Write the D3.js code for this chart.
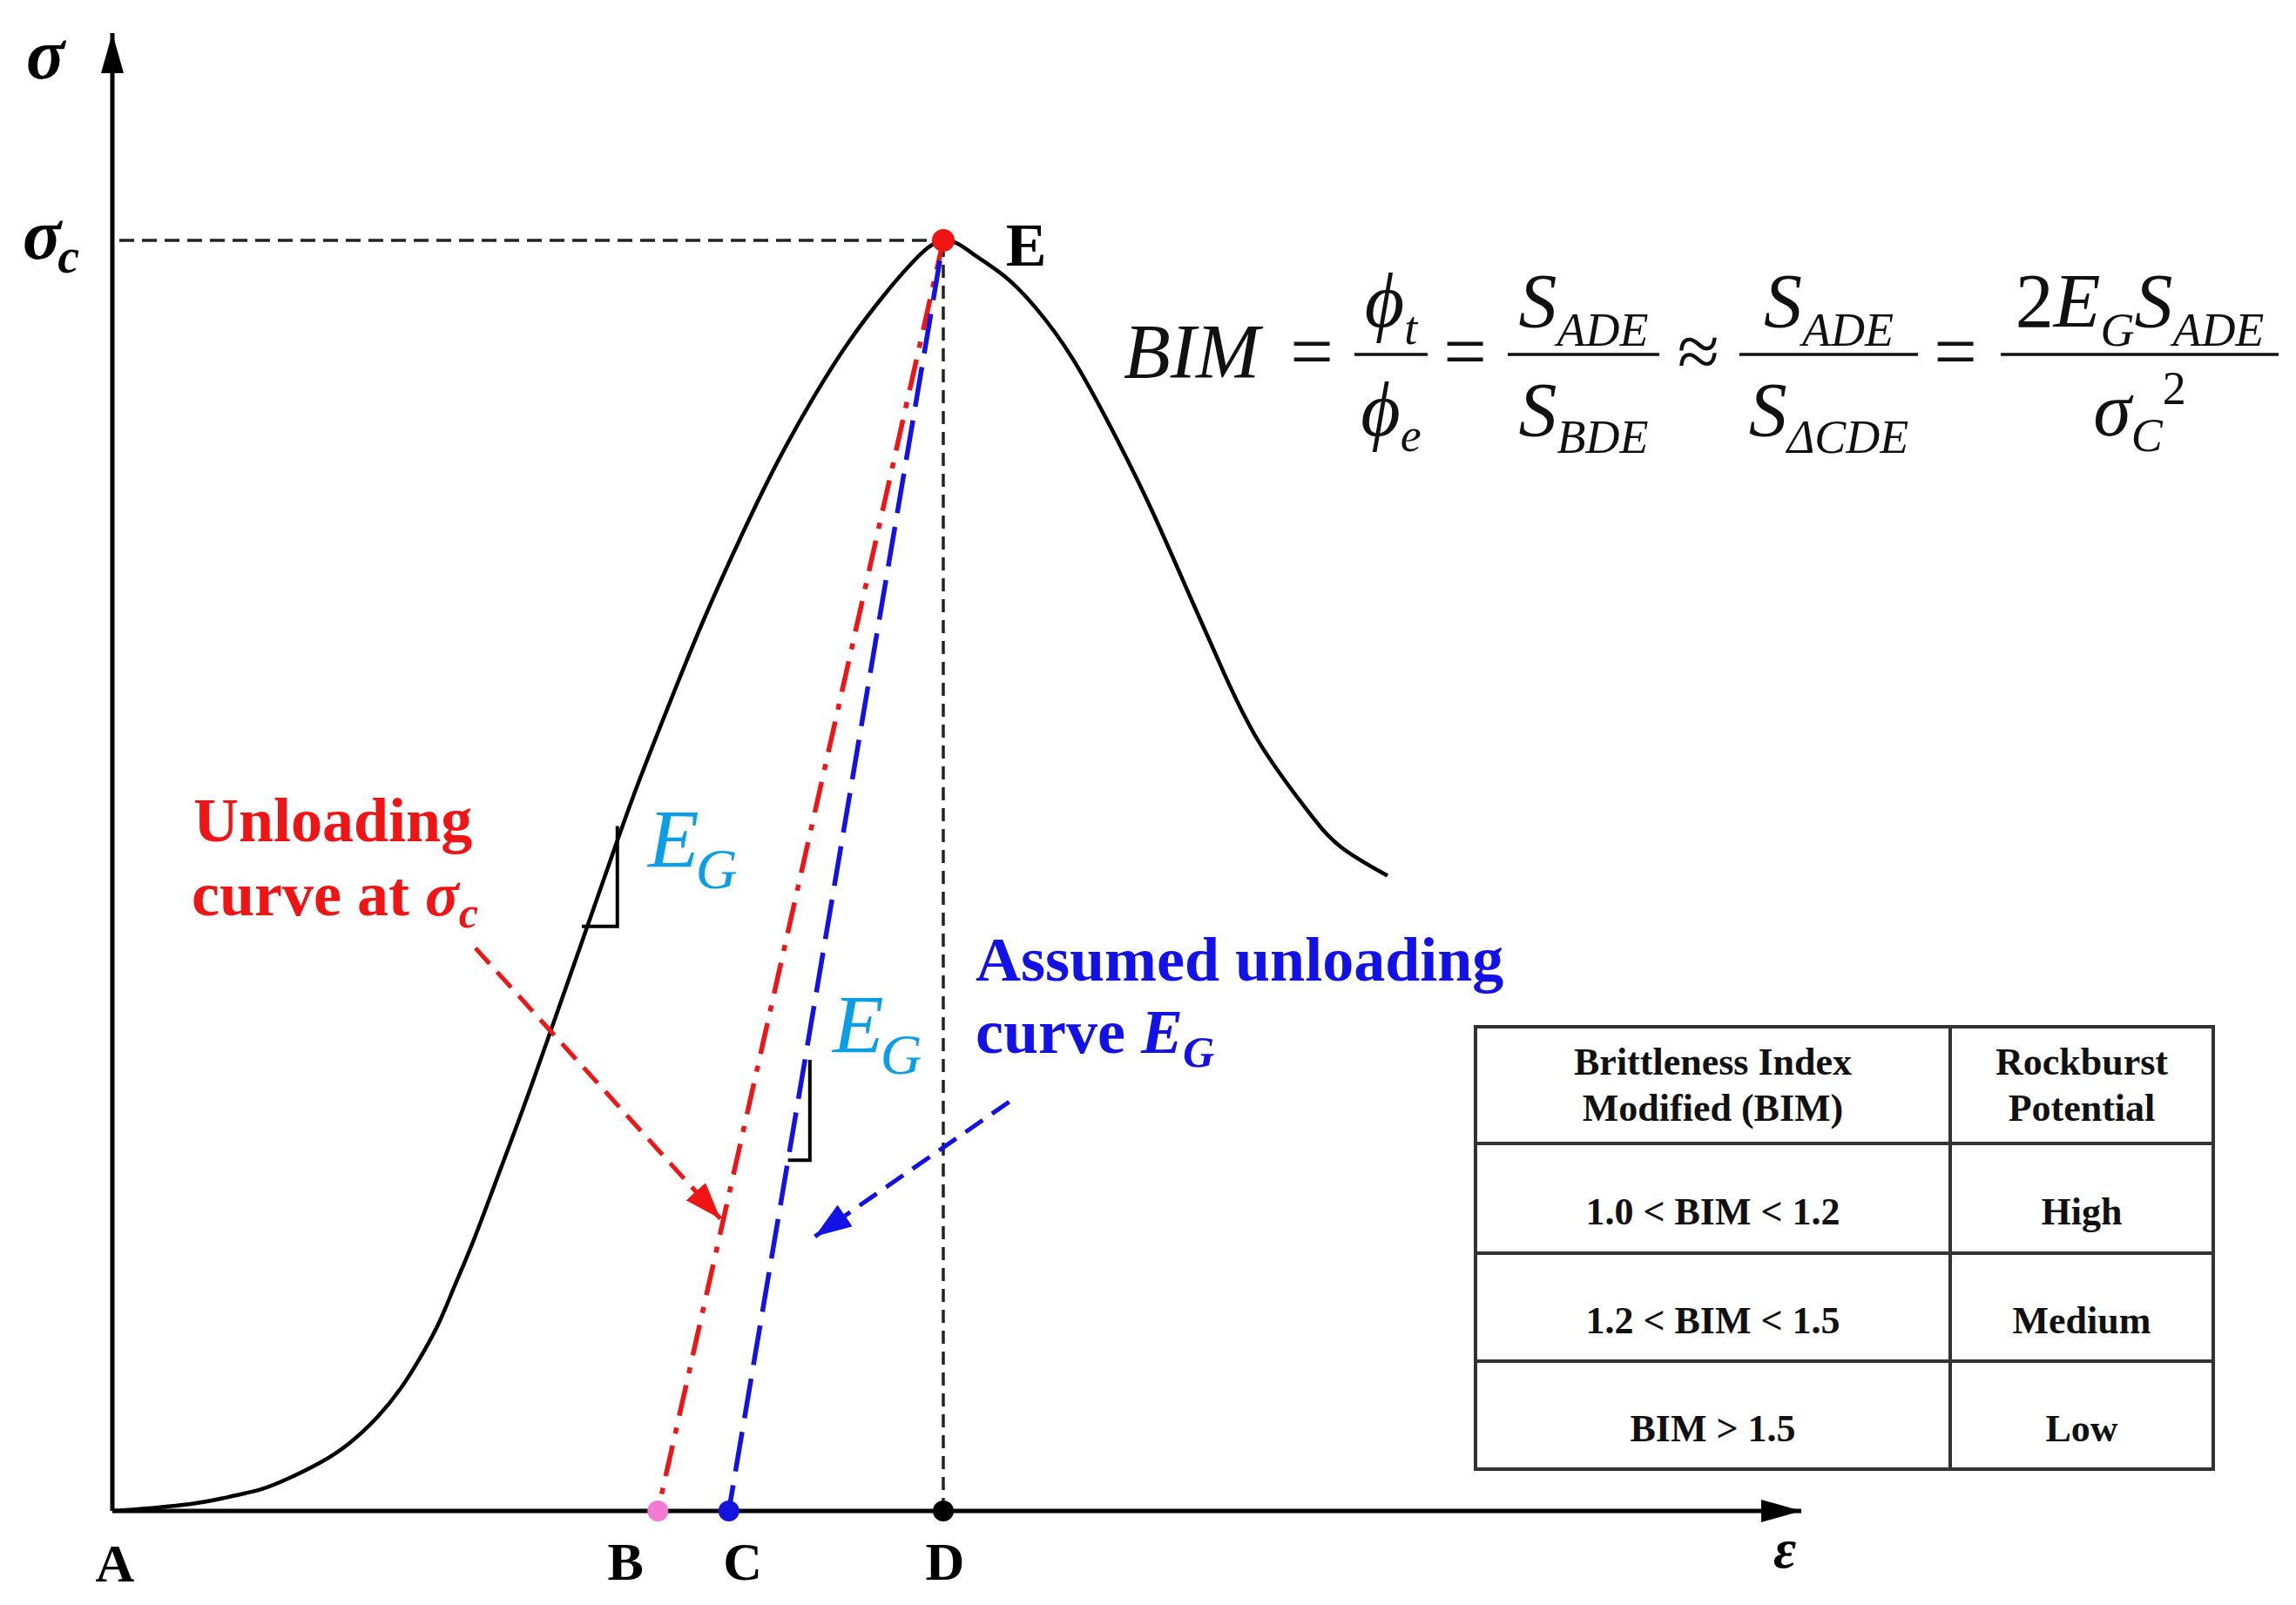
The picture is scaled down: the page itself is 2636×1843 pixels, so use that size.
<!DOCTYPE html>
<html>
<head>
<meta charset="utf-8">
<script src="https://cdn.jsdelivr.net/npm/d3@7"></script>
<style>
  html, body { margin: 0; padding: 0; background: #fff; }
  svg { display: block; }
  text { font-family: "Liberation Serif", "Times New Roman", serif; }
</style>
</head>
<body>
<svg id="chart" width="2636" height="1843"></svg>
<script>
// stress-strain curve (strain 0..100 = axis length, stress 100 = sigma_c)
const curveStrain = [0, 1.2, 4.9, 7.2, 8.8, 10.5, 12.3, 14.0, 15.7, 17.1, 18.2, 19.3, 20.2, 21.3, 22.7, 24.3, 25.8, 27.7, 29.7,
  31.2, 33.0, 35.0, 37.3, 39.4, 41.5, 43.6, 45.7, 47.4, 49.2,
  51.0, 52.8, 54.6, 56.9, 59.5, 61.6, 63.8, 65.8, 67.9, 70.6, 72.7, 75.5];
const curveStress = [0, 0.1, 0.6, 1.2, 1.7, 2.6, 3.8, 5.3, 7.4, 9.7, 12.0, 14.7, 17.5, 21.0, 25.9, 31.6, 37.2, 44.4, 52.0,
  57.5, 63.6, 70.1, 76.9, 82.6, 87.6, 92.0, 95.7, 98.3, 100,
  98.9, 97.2, 94.8, 90.6, 84.3, 78.6, 72.0, 66.0, 60.5, 55.4, 52.3, 50.0];

const pointNames = ['B', 'C', 'D'];
const pointStrain = [32.3, 36.5, 49.2];
const peakStrain = 49.2;
const peakStress = 100;

// slope marks: [x top, y top, y bottom, x left]
const slopeMarks = [[29.9, 53.9, 46.0, 27.8], [41.3, 35.5, 27.6, 40.0]];

// pointer arrows: [x0, y0, x1, y1]
const redArrow = [21.5, 44.3, 36.0, 23.0];
const blueArrow = [53.1, 32.2, 41.6, 21.6];

const tableHeader = [['Brittleness Index', 'Modified (BIM)'], ['Rockburst', 'Potential']];
const bimRanges = ['1.0 < BIM < 1.2', '1.2 < BIM < 1.5', 'BIM > 1.5'];
const potentials = ['High', 'Medium', 'Low'];

(function() {
  const svg = d3.select('#chart');
  const RED = '#f01414';
  const BLUE = '#1212e8';
  const LIGHTBLUE = '#0a9ee8';

  const x = d3.scaleLinear().domain([0, 100]).range([129, 2068]);
  const y = d3.scaleLinear().domain([0, 100]).range([1735, 276]);
  const yTop = y.invert(38);

  const defs = svg.append('defs');
  function arrowMarker(id, color, len, wid) {
    defs.append('marker')
      .attr('id', id)
      .attr('markerUnits', 'userSpaceOnUse')
      .attr('viewBox', `0 ${-wid / 2} ${len} ${wid}`)
      .attr('refX', len).attr('refY', 0)
      .attr('markerWidth', len).attr('markerHeight', wid)
      .attr('orient', 'auto')
      .append('path')
      .attr('d', `M0,${-wid / 2}L${len},0L0,${wid / 2}Z`)
      .attr('fill', color);
  }
  arrowMarker('axisArrow', '#000', 46, 26);
  arrowMarker('redHead', RED, 42, 30);
  arrowMarker('blueHead', BLUE, 42, 30);

  // axes
  svg.append('line')
    .attr('x1', x(0)).attr('y1', y(0)).attr('x2', x(0)).attr('y2', y(yTop))
    .attr('stroke', '#000').attr('stroke-width', 5)
    .attr('marker-end', 'url(#axisArrow)');
  svg.append('line')
    .attr('x1', x(0)).attr('y1', y(0)).attr('x2', x(100)).attr('y2', y(0))
    .attr('stroke', '#000').attr('stroke-width', 5)
    .attr('marker-end', 'url(#axisArrow)');

  // guide lines to the peak
  svg.append('line')
    .attr('x1', x(0) + 8).attr('y1', y(peakStress)).attr('x2', x(peakStrain)).attr('y2', y(peakStress))
    .attr('stroke', '#222').attr('stroke-width', 3.5).attr('stroke-dasharray', '17 9');
  svg.append('line')
    .attr('x1', x(pointStrain[2])).attr('y1', y(0)).attr('x2', x(peakStrain)).attr('y2', y(peakStress))
    .attr('stroke', '#222').attr('stroke-width', 3.5).attr('stroke-dasharray', '15 9');

  // main curve
  const pts = curveStrain.map((s, i) => [s, curveStress[i]]);
  const line = d3.line().x(d => x(d[0])).y(d => y(d[1])).curve(d3.curveNatural);
  svg.append('path')
    .datum(pts)
    .attr('d', line)
    .attr('fill', 'none').attr('stroke', '#000').attr('stroke-width', 4.5);

  // unloading lines
  svg.append('line')
    .attr('x1', x(pointStrain[0])).attr('y1', y(0)).attr('x2', x(peakStrain)).attr('y2', y(peakStress))
    .attr('stroke', RED).attr('stroke-width', 5.5)
    .attr('stroke-dasharray', '36 14 7 14').attr('stroke-dashoffset', 30);
  svg.append('line')
    .attr('x1', x(pointStrain[1])).attr('y1', y(0)).attr('x2', x(peakStrain)).attr('y2', y(peakStress))
    .attr('stroke', BLUE).attr('stroke-width', 5.5)
    .attr('stroke-dasharray', '46 16').attr('stroke-dashoffset', 16);

  // slope triangles
  slopeMarks.forEach(m => {
    svg.append('path')
      .attr('d', `M${x(m[0])},${y(m[1])}L${x(m[0])},${y(m[2])}L${x(m[3])},${y(m[2])}`)
      .attr('fill', 'none').attr('stroke', '#000').attr('stroke-width', 4);
  });

  // pointer arrows
  svg.append('line')
    .attr('x1', x(redArrow[0])).attr('y1', y(redArrow[1])).attr('x2', x(redArrow[2])).attr('y2', y(redArrow[3]))
    .attr('stroke', RED).attr('stroke-width', 5).attr('stroke-dasharray', '24 13')
    .attr('marker-end', 'url(#redHead)');
  svg.append('line')
    .attr('x1', x(blueArrow[0])).attr('y1', y(blueArrow[1])).attr('x2', x(blueArrow[2])).attr('y2', y(blueArrow[3]))
    .attr('stroke', BLUE).attr('stroke-width', 5).attr('stroke-dasharray', '24 13')
    .attr('marker-end', 'url(#blueHead)');

  // points
  const dotColors = ['#f27ad2', '#1414e0', '#000'];
  svg.selectAll('circle.pt')
    .data(pointStrain)
    .join('circle')
    .attr('class', 'pt')
    .attr('cx', d => x(d)).attr('cy', y(0)).attr('r', 12)
    .attr('fill', (d, i) => dotColors[i]);
  svg.append('circle')
    .attr('cx', x(peakStrain)).attr('cy', y(peakStress)).attr('r', 13).attr('fill', RED);

  // point labels
  const lab = svg.append('g').attr('font-weight', 'bold').attr('font-size', 62).attr('text-anchor', 'middle');
  lab.append('text').attr('x', x(0) + 3).attr('y', 1816).text('A');
  lab.selectAll('text.pl')
    .data(pointNames)
    .join('text')
    .attr('class', 'pl')
    .attr('x', (d, i) => x(pointStrain[i]) + [-37, 16, 2][i])
    .attr('y', 1814)
    .text(d => d);
  lab.append('text').attr('x', 1178).attr('y', 305).attr('font-size', 70).text('E');
  lab.append('text').attr('x', 2049).attr('y', 1800).attr('font-style', 'italic').attr('font-size', 64).text('ε');

  // axis symbols
  svg.append('text').attr('x', 30).attr('y', 90)
    .attr('font-size', 82).attr('font-weight', 'bold').attr('font-style', 'italic').text('σ');
  const sc = svg.append('text').attr('x', 26).attr('y', 297)
    .attr('font-size', 82).attr('font-weight', 'bold').attr('font-style', 'italic');
  sc.append('tspan').text('σ');
  sc.append('tspan').attr('font-size', 56).attr('dy', 16).attr('dx', -4).text('c');

  // red annotation
  const ru = svg.append('g').attr('fill', RED).attr('font-weight', 'bold').attr('font-size', 72);
  ru.append('text').attr('x', 222).attr('y', 966).text('Unloading');
  const r2 = ru.append('text').attr('x', 220).attr('y', 1051);
  r2.append('tspan').text('curve at ');
  r2.append('tspan').attr('font-style', 'italic').text('σ');
  r2.append('tspan').attr('font-style', 'italic').attr('font-size', 50).attr('dy', 14).text('c');

  // blue annotation
  const bu = svg.append('g').attr('fill', BLUE).attr('font-weight', 'bold').attr('font-size', 72);
  bu.append('text').attr('x', 1120).attr('y', 1126).text('Assumed unloading');
  const b2 = bu.append('text').attr('x', 1120).attr('y', 1209);
  b2.append('tspan').text('curve ');
  b2.append('tspan').attr('font-style', 'italic').text('E');
  b2.append('tspan').attr('font-style', 'italic').attr('font-size', 50).attr('dy', 16).text('G');

  // E_G labels
  [[744, 996], [956, 1209]].forEach(p => {
    const t = svg.append('text').attr('x', p[0]).attr('y', p[1])
      .attr('fill', LIGHTBLUE).attr('font-style', 'italic').attr('font-size', 96);
    t.append('tspan').text('E');
    t.append('tspan').attr('font-size', 66).attr('dy', 24).attr('dx', -4).text('G');
  });

  // formula
  const f = svg.append('g').attr('fill', '#111');
  const MAIN = 88, SUB = 54;
  f.append('text').attr('x', 1290).attr('y', 433)
    .attr('font-size', MAIN).attr('font-style', 'italic').text('BIM');
  [[1506, '='], [1682, '='], [1950, '≈'], [2245, '=']].forEach(o => {
    f.append('text').attr('x', o[0]).attr('y', 433).attr('text-anchor', 'middle')
      .attr('font-size', MAIN).text(o[1]);
  });
  // parts: [text, size, baseline shift, upright]
  function stack(cx, base, parts) {
    const t = f.append('text').attr('x', cx).attr('y', base)
      .attr('text-anchor', 'middle').attr('font-style', 'italic');
    let prev = 0;
    parts.forEach(p => {
      const ts = t.append('tspan').attr('font-size', p[1]).attr('dy', p[2] - prev).text(p[0]);
      if (p[3]) ts.attr('font-style', 'normal');
      prev = p[2];
    });
  }
  const fracs = [
    [1555, 1639, [['ϕ', MAIN, 0], ['t', SUB, 20]], [['ϕ', MAIN, 0], ['e', SUB, 18]]],
    [1731, 1905, [['S', MAIN, 0], ['ADE', SUB, 22]], [['S', MAIN, 0], ['BDE', SUB, 20]]],
    [1997, 2202, [['S', MAIN, 0], ['ADE', SUB, 22]], [['S', MAIN, 0], ['ΔCDE', SUB, 20]]],
    [2297, 2616, [['2', MAIN, 0, true], ['E', MAIN, 0], ['G', SUB, 22], ['S', MAIN, 0], ['ADE', SUB, 22]],
      [['σ', MAIN, 0], ['C', SUB, 18], ['2', SUB, -36, true]]]
  ];
  fracs.forEach(fr => {
    f.append('line').attr('x1', fr[0]).attr('x2', fr[1]).attr('y1', 407).attr('y2', 407)
      .attr('stroke', '#111').attr('stroke-width', 3.5);
    const cx = (fr[0] + fr[1]) / 2;
    stack(cx, 375, fr[2]);
    stack(cx, 500, fr[3]);
  });

  // classification table
  const tLeft = 1694, tRight = 2541, tMid = 2239;
  const rowEdges = [1179, 1313, 1439, 1563, 1687];
  const tb = svg.append('g');
  tb.append('rect').attr('x', tLeft).attr('y', rowEdges[0])
    .attr('width', tRight - tLeft).attr('height', rowEdges[4] - rowEdges[0])
    .attr('fill', 'none').attr('stroke', '#333').attr('stroke-width', 4);
  tb.selectAll('line.row')
    .data(rowEdges.slice(1, 4))
    .join('line')
    .attr('class', 'row')
    .attr('x1', tLeft).attr('x2', tRight).attr('y1', d => d).attr('y2', d => d)
    .attr('stroke', '#333').attr('stroke-width', 4);
  tb.append('line').attr('x1', tMid).attr('x2', tMid).attr('y1', rowEdges[0]).attr('y2', rowEdges[4])
    .attr('stroke', '#333').attr('stroke-width', 4);

  const colCx = [(tLeft + tMid) / 2, (tMid + tRight) / 2];
  const tt = tb.append('g').attr('font-weight', 'bold').attr('font-size', 44)
    .attr('text-anchor', 'middle').attr('fill', '#111');
  tableHeader.forEach((lines, c) => {
    lines.forEach((s, k) => {
      tt.append('text').attr('x', colCx[c]).attr('y', 1234 + k * 53).text(s);
    });
  });
  bimRanges.forEach((s, r) => {
    const cy = (rowEdges[r + 1] + rowEdges[r + 2]) / 2 + 30;
    tt.append('text').attr('x', colCx[0]).attr('y', cy).text(s);
    tt.append('text').attr('x', colCx[1]).attr('y', cy).text(potentials[r]);
  });
})();
</script>
</body>
</html>
